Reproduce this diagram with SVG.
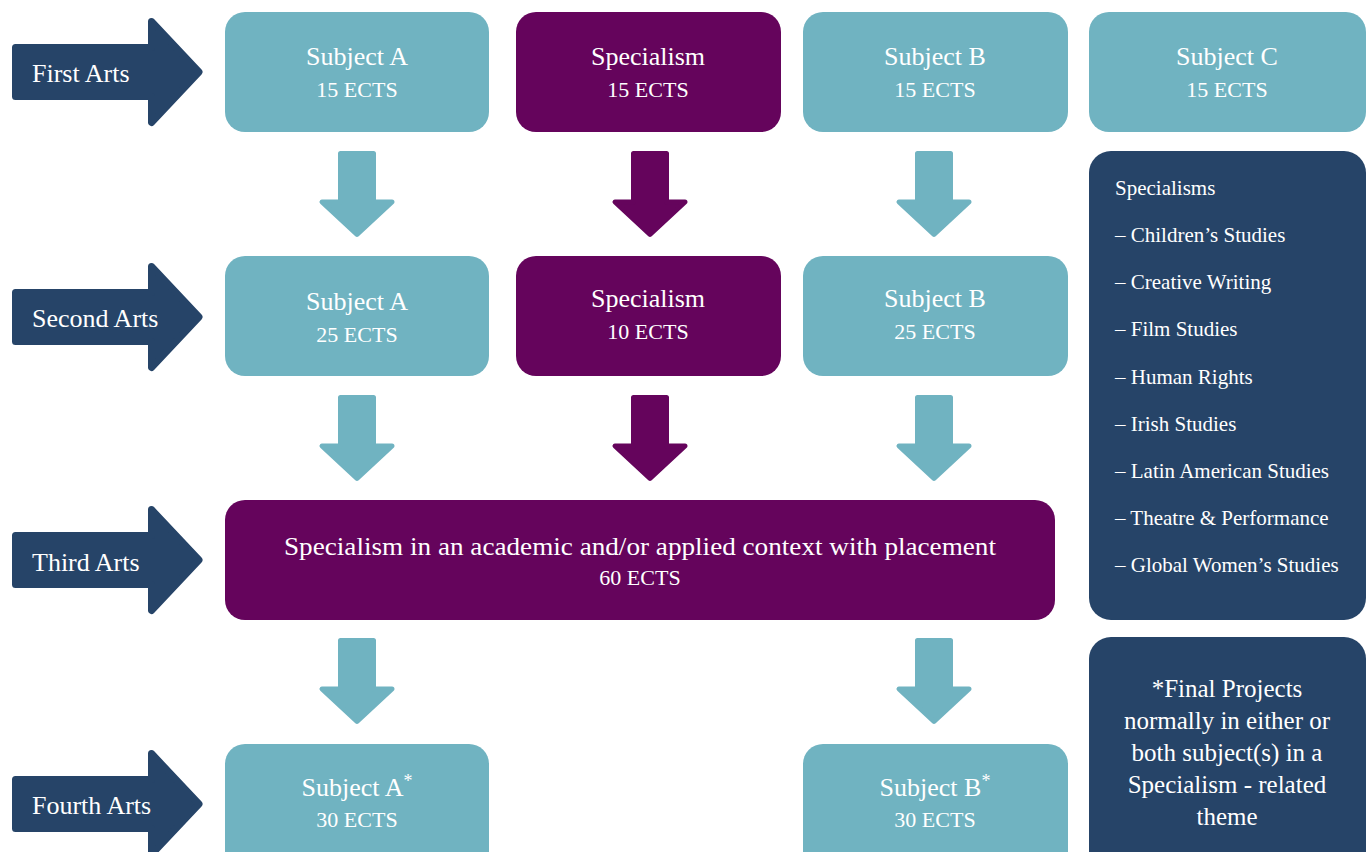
<svg xmlns="http://www.w3.org/2000/svg" xmlns:xlink="http://www.w3.org/1999/xlink" width="1370" height="852" viewBox="0 0 1370 852">
<style>
text{font-family:"Liberation Serif","Times New Roman",serif;fill:#ffffff}
.t{font-size:26px;text-anchor:middle}
.e{font-size:22px;text-anchor:middle}
.lbl{font-size:26px}
.li{font-size:21px}
.fp{font-size:25px;text-anchor:middle}
.teal{fill:#70b3c1}
.purp{fill:#65045c}
.navy{fill:#264468}
.ta{fill:#70b3c1;stroke:#70b3c1;stroke-width:5;stroke-linejoin:round}
.pa{fill:#65045c;stroke:#65045c;stroke-width:5;stroke-linejoin:round}
.na{fill:#264468;stroke:#264468;stroke-width:7;stroke-linejoin:round}
</style>
<defs>
<path id="side" d="M15.5,-24.5 H151.5 V-50.5 L199,0 L151.5,50.5 V24.5 H15.5 Z"/>
<path id="down" d="M-16.5,2.5 H16.5 V51 H35 L0,83.5 L-35,51 H-16.5 Z"/>
</defs>
<rect width="1370" height="852" fill="#ffffff"/>

<g id="year-labels">
<g id="first-arts"><use xlink:href="#side" class="na" transform="translate(0,72)"/><text class="lbl" x="32" y="82">First Arts</text></g>
<g id="second-arts"><use xlink:href="#side" class="na" transform="translate(0,317)"/><text class="lbl" x="32" y="327">Second Arts</text></g>
<g id="third-arts"><use xlink:href="#side" class="na" transform="translate(0,560)"/><text class="lbl" x="32" y="571">Third Arts</text></g>
<g id="fourth-arts"><use xlink:href="#side" class="na" transform="translate(0,804)"/><text class="lbl" x="32" y="814">Fourth Arts</text></g>
</g>

<g id="connectors">
<use xlink:href="#down" class="ta" transform="translate(357,151)"/>
<use xlink:href="#down" class="pa" transform="translate(650,151)"/>
<use xlink:href="#down" class="ta" transform="translate(934,151)"/>
<use xlink:href="#down" class="ta" transform="translate(357,395)"/>
<use xlink:href="#down" class="pa" transform="translate(650,395)"/>
<use xlink:href="#down" class="ta" transform="translate(934,395)"/>
<use xlink:href="#down" class="ta" transform="translate(357,638)"/>
<use xlink:href="#down" class="ta" transform="translate(934,638)"/>
</g>

<g id="y1-subject-a"><rect class="teal" x="225" y="12" width="264" height="120" rx="20"/><text class="t" x="357" y="65">Subject A</text><text class="e" x="357" y="97">15 ECTS</text></g>
<g id="y1-specialism"><rect class="purp" x="516" y="12" width="265" height="120" rx="20"/><text class="t" x="648" y="65">Specialism</text><text class="e" x="648" y="97">15 ECTS</text></g>
<g id="y1-subject-b"><rect class="teal" x="803" y="12" width="265" height="120" rx="20"/><text class="t" x="935" y="65">Subject B</text><text class="e" x="935" y="97">15 ECTS</text></g>
<g id="y1-subject-c"><rect class="teal" x="1089" y="12" width="277" height="120" rx="20"/><text class="t" x="1227" y="65">Subject C</text><text class="e" x="1227" y="97">15 ECTS</text></g>

<g id="y2-subject-a"><rect class="teal" x="225" y="256" width="264" height="120" rx="20"/><text class="t" x="357" y="310">Subject A</text><text class="e" x="357" y="342">25 ECTS</text></g>
<g id="y2-specialism"><rect class="purp" x="516" y="256" width="265" height="120" rx="20"/><text class="t" x="648" y="307">Specialism</text><text class="e" x="648" y="339">10 ECTS</text></g>
<g id="y2-subject-b"><rect class="teal" x="803" y="256" width="265" height="120" rx="20"/><text class="t" x="935" y="307">Subject B</text><text class="e" x="935" y="339">25 ECTS</text></g>

<g id="y3-specialism"><rect class="purp" x="225" y="500" width="830" height="120" rx="20"/><text class="t" x="640" y="555" textLength="712" lengthAdjust="spacingAndGlyphs">Specialism in an academic and/or applied context with placement</text><text class="e" x="640" y="585">60 ECTS</text></g>

<g id="y4-subject-a"><rect class="teal" x="225" y="744" width="264" height="130" rx="20"/><text class="t" x="357" y="796">Subject A<tspan font-size="18" dy="-9">*</tspan></text><text class="e" x="357" y="827">30 ECTS</text></g>
<g id="y4-subject-b"><rect class="teal" x="803" y="744" width="265" height="130" rx="20"/><text class="t" x="935" y="796">Subject B<tspan font-size="18" dy="-9">*</tspan></text><text class="e" x="935" y="827">30 ECTS</text></g>

<g id="specialisms-list"><rect class="navy" x="1089" y="151" width="277" height="469" rx="22"/>
<text class="li" x="1115" y="195">Specialisms</text>
<text class="li" x="1115" y="242">– Children’s Studies</text>
<text class="li" x="1115" y="289">– Creative Writing</text>
<text class="li" x="1115" y="336">– Film Studies</text>
<text class="li" x="1115" y="384">– Human Rights</text>
<text class="li" x="1115" y="431">– Irish Studies</text>
<text class="li" x="1115" y="478">– Latin American Studies</text>
<text class="li" x="1115" y="525">– Theatre &amp; Performance</text>
<text class="li" x="1115" y="572">– Global Women’s Studies</text>
</g>

<g id="final-projects-note"><rect class="navy" x="1089" y="637" width="277" height="240" rx="22"/>
<text class="fp" x="1227" y="697">*Final Projects</text>
<text class="fp" x="1227" y="729">normally in either or</text>
<text class="fp" x="1227" y="761">both subject(s) in a</text>
<text class="fp" x="1227" y="793">Specialism - related</text>
<text class="fp" x="1227" y="825">theme</text>
</g>
</svg>
